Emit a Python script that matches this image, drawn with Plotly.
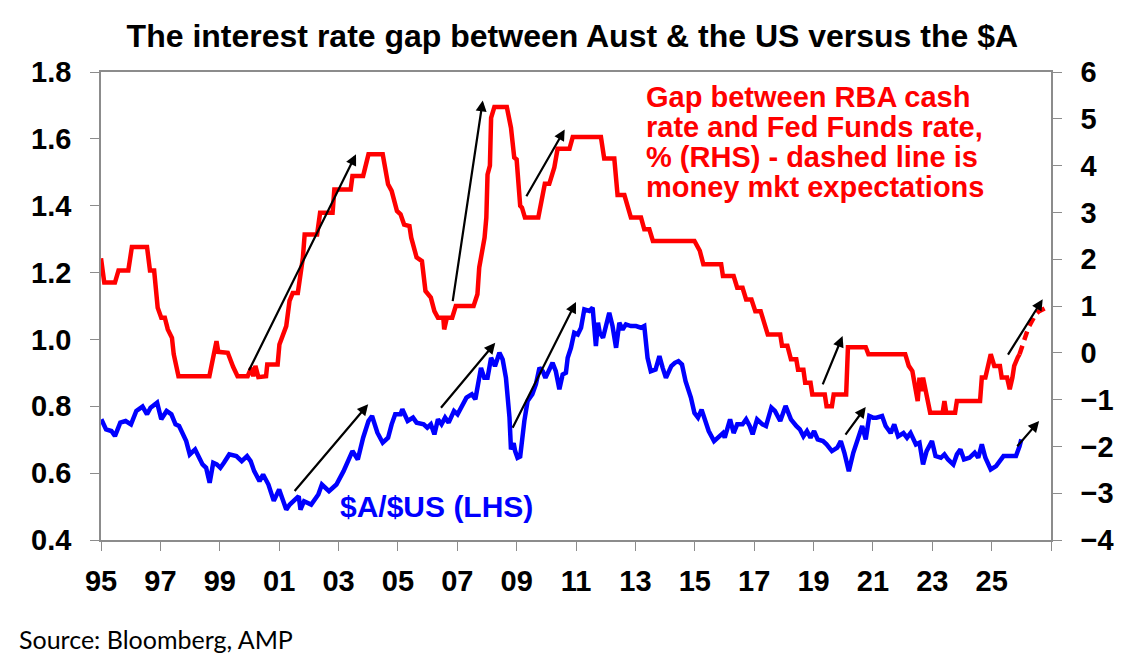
"""AMP chart: interest rate gap Aust vs US against the $A."""

import plotly.graph_objects as go

# RBA cash rate minus Fed Funds rate, % (RHS) - (year, value) vertices
RED_GAP = [
    (1995.00, 2.02), (1995.11, 1.50), (1995.47, 1.50), (1995.59, 1.76), (1995.92, 1.76),
    (1996.04, 2.26), (1996.55, 2.26), (1996.65, 1.76), (1996.79, 1.76), (1996.91, 0.96),
    (1997.03, 0.75), (1997.15, 0.75), (1997.25, 0.50), (1997.39, 0.32), (1997.45, -0.03),
    (1997.61, -0.50), (1998.65, -0.50), (1998.89, 0.25), (1998.95, 0.02), (1999.27, 0.00),
    (1999.45, -0.30), (1999.60, -0.50), (1999.94, -0.50), (2000.06, -0.32), (2000.13, -0.50),
    (2000.20, -0.28), (2000.30, -0.52), (2000.56, -0.50), (2000.60, -0.25), (2000.95, -0.25),
    (2001.01, 0.18), (2001.12, 0.39), (2001.24, 0.57), (2001.35, 1.11), (2001.46, 1.28),
    (2001.63, 1.28), (2001.69, 1.57), (2001.80, 2.03), (2001.86, 2.53), (2002.28, 2.53),
    (2002.38, 2.99), (2002.80, 2.99), (2002.86, 3.49), (2003.41, 3.49), (2003.47, 3.78),
    (2003.83, 3.78), (2004.01, 4.24), (2004.49, 4.24), (2004.67, 3.60), (2004.79, 3.46),
    (2004.97, 3.03), (2005.09, 2.96), (2005.21, 2.74), (2005.39, 2.71), (2005.45, 2.46),
    (2005.63, 2.04), (2005.81, 1.96), (2005.93, 1.32), (2006.11, 1.18), (2006.23, 0.89),
    (2006.35, 0.75), (2006.53, 0.75), (2006.56, 0.50), (2006.65, 0.75), (2006.83, 0.75),
    (2006.95, 1.00), (2007.55, 1.00), (2007.68, 1.25), (2007.74, 1.82), (2007.92, 2.46),
    (2007.98, 2.89), (2008.02, 3.81), (2008.10, 4.00), (2008.14, 5.02), (2008.25, 5.25),
    (2008.67, 5.25), (2008.81, 4.81), (2008.92, 4.17), (2009.00, 4.13), (2009.12, 3.14),
    (2009.18, 3.10), (2009.28, 2.89), (2009.73, 2.89), (2009.88, 3.35), (2009.95, 3.61),
    (2010.10, 3.61), (2010.27, 3.96), (2010.38, 4.36), (2010.78, 4.36), (2010.89, 4.61),
    (2011.84, 4.61), (2011.95, 4.15), (2012.29, 4.15), (2012.40, 3.37), (2012.63, 3.37),
    (2012.85, 2.89), (2013.19, 2.89), (2013.30, 2.64), (2013.47, 2.64), (2013.59, 2.39),
    (2014.99, 2.39), (2015.17, 2.18), (2015.29, 1.89), (2015.89, 1.89), (2015.95, 1.64),
    (2016.31, 1.64), (2016.43, 1.39), (2016.61, 1.39), (2016.73, 1.14), (2016.91, 1.14),
    (2017.04, 0.89), (2017.22, 0.89), (2017.34, 0.64), (2017.46, 0.39), (2017.88, 0.39),
    (2017.94, 0.15), (2018.12, 0.15), (2018.24, -0.14), (2018.42, -0.14), (2018.48, -0.36),
    (2018.66, -0.36), (2018.72, -0.64), (2018.90, -0.64), (2018.96, -0.89), (2019.38, -0.89),
    (2019.44, -1.14), (2019.62, -1.14), (2019.68, -0.89), (2020.10, -0.89), (2020.16, 0.12),
    (2020.76, 0.12), (2020.85, -0.03), (2022.09, -0.03), (2022.21, -0.28), (2022.33, -0.39),
    (2022.51, -1.03), (2022.57, -0.53), (2022.63, -0.82), (2022.69, -0.53), (2022.81, -0.96),
    (2022.93, -1.28), (2023.35, -1.28), (2023.41, -1.03), (2023.47, -1.28), (2023.77, -1.28),
    (2023.83, -1.03), (2024.61, -1.03), (2024.67, -0.53), (2024.79, -0.53), (2024.97, -0.03),
    (2025.09, -0.28), (2025.28, -0.28), (2025.34, -0.53), (2025.52, -0.53), (2025.61, -0.78),
    (2025.70, -0.53), (2025.76, -0.28), (2025.88, -0.10), (2025.94, -0.03),
]

# money market expectations for the gap (dashed)
RED_EXPECTED = [
    (2025.94, -0.03), (2026.06, 0.18), (2026.24, 0.54), (2026.48, 0.82),
    (2026.60, 0.89), (2026.95, 1.00),
]

# $A/$US (LHS)
AUD_USD = [
    (1995.01, 0.761), (1995.17, 0.731), (1995.35, 0.726), (1995.47, 0.711), (1995.65, 0.751),
    (1995.83, 0.756), (1996.01, 0.746), (1996.19, 0.786), (1996.40, 0.799), (1996.55, 0.776),
    (1996.67, 0.796), (1996.89, 0.811), (1997.03, 0.761), (1997.21, 0.786), (1997.37, 0.776),
    (1997.51, 0.746), (1997.63, 0.741), (1997.87, 0.696), (1997.99, 0.656), (1998.17, 0.671),
    (1998.42, 0.626), (1998.54, 0.616), (1998.66, 0.571), (1998.78, 0.631), (1998.90, 0.626),
    (1999.02, 0.616), (1999.14, 0.631), (1999.32, 0.656), (1999.56, 0.651), (1999.74, 0.636),
    (1999.92, 0.651), (2000.04, 0.636), (2000.16, 0.606), (2000.34, 0.576), (2000.46, 0.596),
    (2000.64, 0.566), (2000.82, 0.517), (2001.00, 0.551), (2001.12, 0.521), (2001.24, 0.491),
    (2001.36, 0.506), (2001.66, 0.531), (2001.72, 0.491), (2001.84, 0.516), (2002.08, 0.506),
    (2002.32, 0.536), (2002.44, 0.566), (2002.68, 0.546), (2002.93, 0.566), (2003.17, 0.606),
    (2003.47, 0.666), (2003.65, 0.641), (2003.83, 0.706), (2004.01, 0.756), (2004.13, 0.771),
    (2004.31, 0.721), (2004.49, 0.691), (2004.67, 0.706), (2004.79, 0.746), (2004.91, 0.776),
    (2005.09, 0.776), (2005.15, 0.791), (2005.33, 0.756), (2005.51, 0.766), (2005.63, 0.751),
    (2005.87, 0.746), (2005.99, 0.736), (2006.11, 0.746), (2006.23, 0.716), (2006.35, 0.761),
    (2006.47, 0.746), (2006.59, 0.766), (2006.71, 0.751), (2006.89, 0.786), (2007.01, 0.776),
    (2007.13, 0.796), (2007.31, 0.826), (2007.49, 0.836), (2007.61, 0.821), (2007.80, 0.915),
    (2007.91, 0.885), (2008.02, 0.885), (2008.14, 0.945), (2008.27, 0.920), (2008.42, 0.960),
    (2008.53, 0.940), (2008.64, 0.885), (2008.76, 0.766), (2008.81, 0.671), (2008.90, 0.690),
    (2008.95, 0.666), (2009.03, 0.646), (2009.12, 0.650), (2009.26, 0.756), (2009.37, 0.816),
    (2009.53, 0.836), (2009.65, 0.866), (2009.77, 0.915), (2009.88, 0.905), (2009.97, 0.885),
    (2010.21, 0.930), (2010.32, 0.905), (2010.44, 0.851), (2010.55, 0.895), (2010.66, 0.900),
    (2010.72, 0.945), (2010.83, 0.975), (2010.94, 1.020), (2011.06, 1.015), (2011.17, 1.035),
    (2011.28, 1.090), (2011.45, 1.085), (2011.56, 1.095), (2011.67, 0.980), (2011.74, 1.050),
    (2011.80, 1.020), (2011.91, 1.005), (2012.12, 1.080), (2012.23, 1.040), (2012.35, 0.975),
    (2012.46, 1.050), (2012.57, 1.030), (2012.68, 1.045), (2012.85, 1.040), (2013.02, 1.040),
    (2013.19, 1.035), (2013.30, 1.040), (2013.41, 0.945), (2013.52, 0.905), (2013.68, 0.910),
    (2013.81, 0.950), (2013.92, 0.915), (2014.03, 0.885), (2014.21, 0.920), (2014.33, 0.930),
    (2014.45, 0.935), (2014.57, 0.925), (2014.69, 0.875), (2014.87, 0.826), (2014.99, 0.780),
    (2015.11, 0.766), (2015.23, 0.790), (2015.35, 0.761), (2015.47, 0.726), (2015.65, 0.696),
    (2015.83, 0.710), (2015.95, 0.720), (2016.01, 0.706), (2016.19, 0.761), (2016.31, 0.720),
    (2016.43, 0.746), (2016.61, 0.746), (2016.73, 0.761), (2016.85, 0.741), (2016.95, 0.716),
    (2017.10, 0.761), (2017.28, 0.746), (2017.40, 0.741), (2017.58, 0.796), (2017.70, 0.786),
    (2017.88, 0.756), (2018.06, 0.801), (2018.24, 0.761), (2018.42, 0.741), (2018.54, 0.731),
    (2018.66, 0.710), (2018.78, 0.726), (2018.90, 0.706), (2019.02, 0.726), (2019.14, 0.701),
    (2019.32, 0.696), (2019.44, 0.686), (2019.62, 0.666), (2019.80, 0.676), (2019.92, 0.696),
    (2020.04, 0.661), (2020.19, 0.606), (2020.34, 0.661), (2020.46, 0.696), (2020.64, 0.741),
    (2020.76, 0.701), (2020.88, 0.771), (2021.00, 0.766), (2021.12, 0.766), (2021.31, 0.771),
    (2021.43, 0.741), (2021.60, 0.720), (2021.72, 0.746), (2021.85, 0.710), (2022.03, 0.720),
    (2022.15, 0.706), (2022.27, 0.720), (2022.45, 0.686), (2022.57, 0.691), (2022.69, 0.626),
    (2022.81, 0.666), (2022.99, 0.696), (2023.11, 0.651), (2023.29, 0.646), (2023.41, 0.656),
    (2023.53, 0.641), (2023.71, 0.626), (2023.83, 0.656), (2023.95, 0.671), (2024.07, 0.641),
    (2024.25, 0.646), (2024.43, 0.661), (2024.55, 0.646), (2024.67, 0.686), (2024.79, 0.646),
    (2024.97, 0.611), (2025.15, 0.621), (2025.40, 0.651), (2025.64, 0.651), (2025.82, 0.651),
    (2025.94, 0.680), (2026.00, 0.701),
]

# black trend arrows, (tail year, tail LHS, head year, head LHS)
ARROWS = [
    (1999.96, 0.903, 2003.59, 1.554),
    (2006.84, 1.110, 2007.86, 1.715),
    (2009.30, 1.424, 2010.62, 1.628),
    (2001.48, 0.542, 2004.00, 0.806),
    (2006.41, 0.791, 2008.28, 0.990),
    (2008.84, 0.731, 2011.00, 1.112),
    (2019.29, 0.861, 2019.98, 1.010),
    (2020.04, 0.711, 2020.76, 0.798),
    (2025.52, 0.950, 2026.72, 1.120),
    (2025.82, 0.676, 2026.60, 0.756),
]

X_TICKS = list(range(1995, 2028, 2))
X_TICK_LABELS = [f"{y % 100:02d}" for y in X_TICKS[:-1]] + [""]
LHS_TICKS = [0.4, 0.6, 0.8, 1.0, 1.2, 1.4, 1.6, 1.8]
RHS_TICKS = list(range(-4, 7))

TITLE = "The interest rate gap between Aust & the US versus the $A"
RED_NOTE_LINES = [
    "Gap between RBA cash",
    "rate and Fed Funds rate,",
    "% (RHS) - dashed line is",
    "money mkt expectations",
]
BLUE_NOTE = "$A/$US (LHS)"
SOURCE = "Source: Bloomberg, AMP"

RED = "#FF0000"
BLUE = "#0000FF"
AXIS_GREY = "#8C8C8C"
FONT = "Liberation Sans, Arial, sans-serif"

fig = go.Figure()

fig.add_trace(go.Scatter(
    x=[p[0] for p in AUD_USD], y=[p[1] for p in AUD_USD],
    mode="lines", line=dict(color=BLUE, width=4.5), name="$A/$US",
    yaxis="y",
))
fig.add_trace(go.Scatter(
    x=[p[0] for p in RED_GAP], y=[p[1] for p in RED_GAP],
    mode="lines", line=dict(color=RED, width=4.5), name="Gap",
    yaxis="y2",
))
fig.add_trace(go.Scatter(
    x=[p[0] for p in RED_EXPECTED], y=[p[1] for p in RED_EXPECTED],
    mode="lines", line=dict(color=RED, width=4.5, dash="9px,6px"), name="Expected gap",
    yaxis="y2",
))

for x0, y0, x1, y1 in ARROWS:
    fig.add_annotation(
        x=x1, y=y1, ax=x0, ay=y0, xref="x", yref="y", axref="x", ayref="y",
        text="", showarrow=True, arrowhead=2, arrowsize=1, arrowwidth=2.2,
        arrowcolor="black", standoff=0,
    )

# red legend note, one annotation per line to keep tight spacing
for i, line in enumerate(RED_NOTE_LINES):
    fig.add_annotation(
        x=0.572, y=0.946 - i * 0.064, xref="paper", yref="paper",
        text=f"<b>{line}</b>", showarrow=False, xanchor="left", yanchor="middle",
        font=dict(family=FONT, size=29, color=RED),
    )

fig.add_annotation(
    x=0.249, y=0.072, xref="paper", yref="paper", text=f"<b>{BLUE_NOTE}</b>",
    showarrow=False, xanchor="left", yanchor="middle",
    font=dict(family=FONT, size=30, color=BLUE),
)

fig.add_annotation(
    x=-0.088, y=-0.211, xref="paper", yref="paper", text=SOURCE,
    showarrow=False, xanchor="left", yanchor="middle",
    font=dict(family="Lato, Open Sans, sans-serif", size=25, color="black"),
)

tick_font = dict(family=FONT, size=29, color="black", weight="bold")

fig.update_layout(
    width=1122, height=667,
    margin=dict(l=93, r=79, t=64, b=135),
    paper_bgcolor="white", plot_bgcolor="white",
    showlegend=False,
    title=dict(
        text=f"<b>{TITLE}</b>", x=0.503, y=0.958, xanchor="center", yanchor="middle",
        font=dict(family=FONT, size=32, color="black"),
    ),
    xaxis=dict(
        range=[1995, 2027], tickmode="array", tickvals=X_TICKS, ticktext=X_TICK_LABELS,
        showgrid=False, zeroline=False, showline=True, linecolor=AXIS_GREY, linewidth=1.5,
        mirror=True, ticks="outside", ticklen=9, tickcolor=AXIS_GREY, tickwidth=1,
        tickfont=tick_font, ticklabelstandoff=5,
    ),
    yaxis=dict(
        range=[0.4, 1.8], tickmode="array", tickvals=LHS_TICKS, tickformat=".1f",
        showgrid=False, zeroline=False, showline=True, linecolor=AXIS_GREY, linewidth=1.5,
        ticks="outside", ticklen=9, tickcolor=AXIS_GREY, tickwidth=1,
        tickfont=tick_font, ticklabelstandoff=13,
    ),
    yaxis2=dict(
        range=[-4, 6], tickmode="array", tickvals=RHS_TICKS, overlaying="y", side="right",
        showgrid=False, zeroline=False, showline=True, linecolor=AXIS_GREY, linewidth=1.5,
        ticks="outside", ticklen=9, tickcolor=AXIS_GREY, tickwidth=1,
        tickfont=tick_font, ticklabelstandoff=13,
    ),
)

fig.write_html("out.html")
